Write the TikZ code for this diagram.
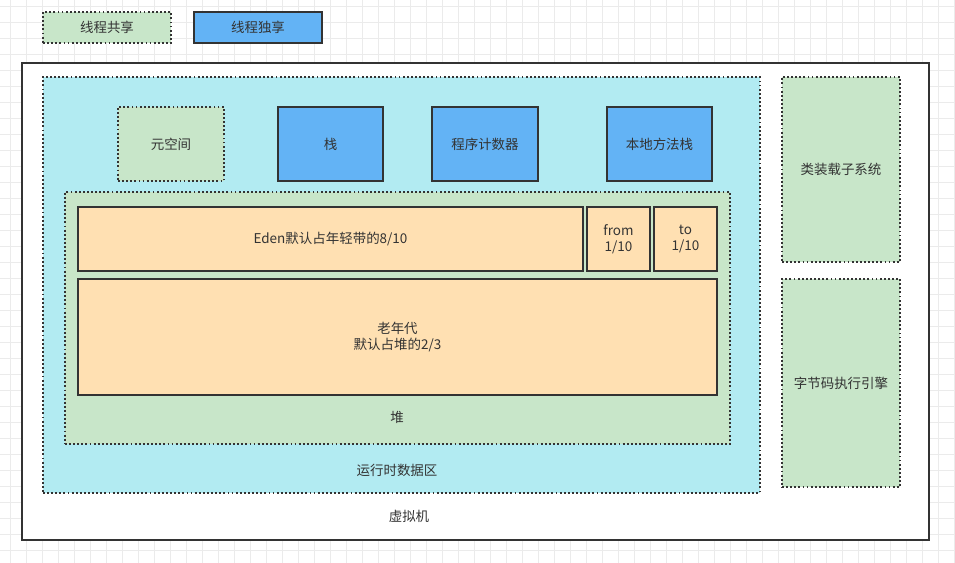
\documentclass[tikz,border=0pt]{standalone}
\usepackage{fontspec}
\setmainfont{Noto Sans CJK SC}
\usepackage{xcolor}
\usetikzlibrary{positioning}
\definecolor{sharedfill}{HTML}{C8E6C9}
\definecolor{ownfill}{HTML}{63B3F5}
\definecolor{rtfill}{HTML}{B2EBF2}
\definecolor{genfill}{HTML}{FFE0B2}
\definecolor{edge}{HTML}{333333}
\definecolor{gridline}{HTML}{EBEBEB}
\tikzset{
  area/.style={draw=edge, line width=1.6pt, text=edge, align=center, font=\fontsize{11.5}{14}\selectfont},
  shared/.style={area, fill=sharedfill, dash pattern=on 1.6pt off 1.9pt},
  own/.style={area, fill=ownfill},
  gen/.style={area, fill=genfill},
  lbl/.style={text=edge, font=\fontsize{11.5}{14}\selectfont}
}
\begin{document}
\begin{tikzpicture}[x=0.03cm, y=-0.03cm]
  \useasboundingbox (0,0) rectangle (955,563);
  % grid
  \foreach \gx in {10,26,...,955} \draw[gridline, line width=0.5pt] (\gx,0) -- (\gx,563);
  \foreach \gy in {6,22,...,563} \draw[gridline, line width=0.5pt] (0,\gy) -- (955,\gy);

  % legend
  \node[shared, minimum width=3.84cm, minimum height=0.93cm] (keyshared) at (107,27.5) {线程共享};
  \node[own, minimum width=3.84cm, minimum height=0.93cm] (keyown) at (258,27.5) {线程独享};

  % virtual machine
  \node[area, fill=white, minimum width=27.21cm, minimum height=14.31cm] (vm) at (475.5,301.5) {};
  \node[lbl] (vmlabel) at (409,516) {虚拟机};

  % runtime data area
  \node[shared, fill=rtfill, minimum width=21.51cm, minimum height=12.48cm] (rda) at (401.5,285) {};
  \node[lbl] (rdalabel) at (397,470) {运行时数据区};

  \node[shared, minimum width=3.18cm, minimum height=2.22cm] (meta) at (171,144) {元空间};
  \node[own, minimum width=3.15cm, minimum height=2.22cm] (stack) at (330.5,144) {栈};
  \node[own, minimum width=3.18cm, minimum height=2.22cm] (pc) at (485,144) {程序计数器};
  \node[own, minimum width=3.15cm, minimum height=2.22cm] (native) at (659.5,144) {本地方法栈};

  % heap
  \node[shared, minimum width=19.95cm, minimum height=7.56cm] (heap) at (397.5,318) {};
  \node[lbl] (heaplabel) at (397,417) {堆};
  \node[gen, minimum width=15.15cm, minimum height=1.92cm] (eden) at (330.5,239) {Eden默认占年轻带的8/10};
  \node[gen, minimum width=1.89cm, minimum height=1.92cm] (from) at (618.5,239) {from\\1/10};
  \node[gen, minimum width=1.89cm, minimum height=1.92cm] (to) at (685.5,239) {to\\1/10};
  \node[gen, minimum width=19.17cm, minimum height=3.48cm] (old) at (397.5,337) {老年代\\默认占堆的2/3};

  % class loader and engine
  \node[shared, minimum width=3.54cm, minimum height=5.55cm] (loader) at (841,169.5) {类装载子系统};
  \node[shared, minimum width=3.54cm, minimum height=6.24cm] (engine) at (841,383) {字节码执行引擎};
\end{tikzpicture}
\end{document}
